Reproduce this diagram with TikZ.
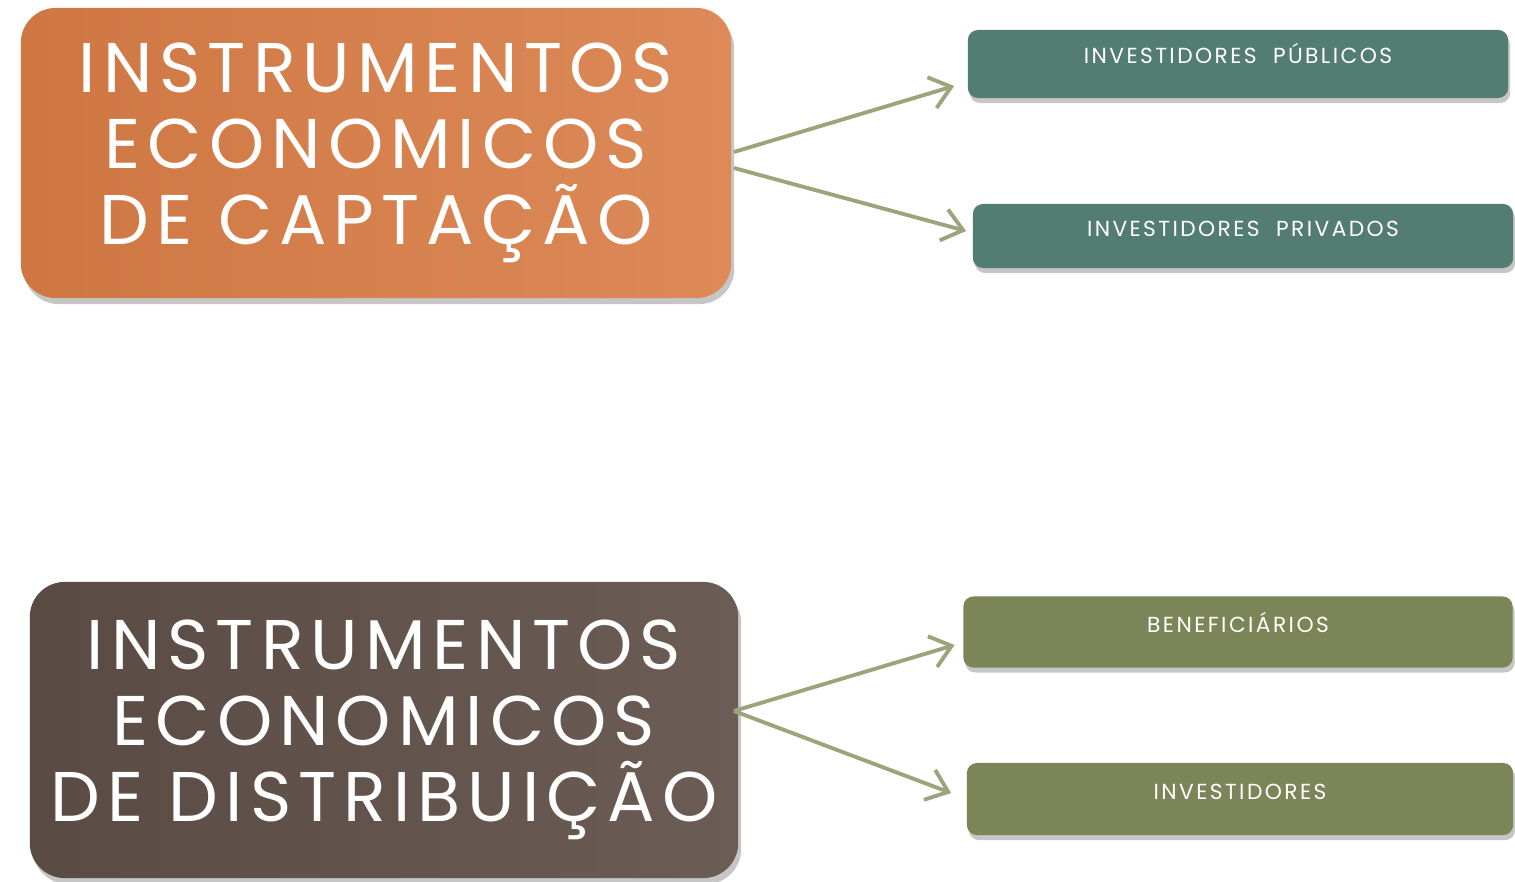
\documentclass[tikz,border=0pt]{standalone}
\usepackage{fontspec}
\newfontfamily\bigfont{Poppins}[LetterSpace=10]
\newfontfamily\smallfont{Poppins}[LetterSpace=11]
\usetikzlibrary{arrows.meta,shadows}
\definecolor{orangebox}{HTML}{D97D46}
\definecolor{brownbox}{HTML}{5E4F47}
\definecolor{tealbox}{HTML}{537D71}
\definecolor{olivebox}{HTML}{7B8557}
\definecolor{arrowgreen}{HTML}{9BA57B}
\tikzset{
    bigbox/.style={rounded corners=0.35cm, minimum width=7.1cm, minimum height=2.9cm,
        text=white, align=center, drop shadow={shadow xshift=0.03cm, shadow yshift=-0.06cm, opacity=0.45},
        font=\bigfont\fontsize{20}{21.6}\selectfont},
    smallbox/.style={rounded corners=0.1cm, minimum width=5.45cm, minimum height=0.68cm,
        text=white, text height=0.15cm, text depth=0.15cm,
        drop shadow={shadow xshift=0.02cm, shadow yshift=-0.05cm, opacity=0.45},
        font=\smallfont\fontsize{6.2}{7}\selectfont},
    link/.style={draw=arrowgreen, line width=1.1pt, -{Straight Barb[length=0.2cm, width=0.32cm]}}
}
\begin{document}
\begin{tikzpicture}[x=0.01cm, y=-0.01cm]
    \useasboundingbox (0, 0) rectangle (1515, 882);

    \node[bigbox, left color=orangebox!95!black, right color=orangebox!90!white] (cap) at (376, 153)
        { INSTRUMENTOS\\ ECONOMICOS\\ DE CAPTAÇÃO };
    \node[bigbox, minimum width=7.08cm, minimum height=2.96cm, left color=brownbox!95!black, right color=brownbox!92!white] (dist) at (384, 730)
        { INSTRUMENTOS\\ ECONOMICOS\\ DE DISTRIBUIÇÃO };

    \node[smallbox, fill=tealbox, minimum width=5.4cm] (pub) at (1238, 64) { INVESTIDORES\ \ PÚBLICOS };
    \node[smallbox, fill=tealbox, minimum width=5.4cm, minimum height=0.64cm] (priv) at (1243, 236) { INVESTIDORES\ \ PRIVADOS };
    \node[smallbox, fill=olivebox, minimum width=5.49cm, minimum height=0.71cm] (ben) at (1238, 632) { BENEFICIÁRIOS };
    \node[smallbox, fill=olivebox, minimum width=5.46cm, minimum height=0.72cm] (inv) at (1240, 799) { INVESTIDORES };

    \draw[link] ([shift={(2,-1)}]cap.east) -- ([shift={(-13,22)}]pub.west);
    \draw[link] ([shift={(2,15)}]cap.east) -- ([shift={(-6,-5)}]priv.west);
    \draw[link] ([shift={(-5,-19)}]dist.east) -- ([shift={(-8,13)}]ben.west);
    \draw[link] ([shift={(-5,-19)}]dist.east) -- ([shift={(-15,-6)}]inv.west);

\end{tikzpicture}
\end{document}
